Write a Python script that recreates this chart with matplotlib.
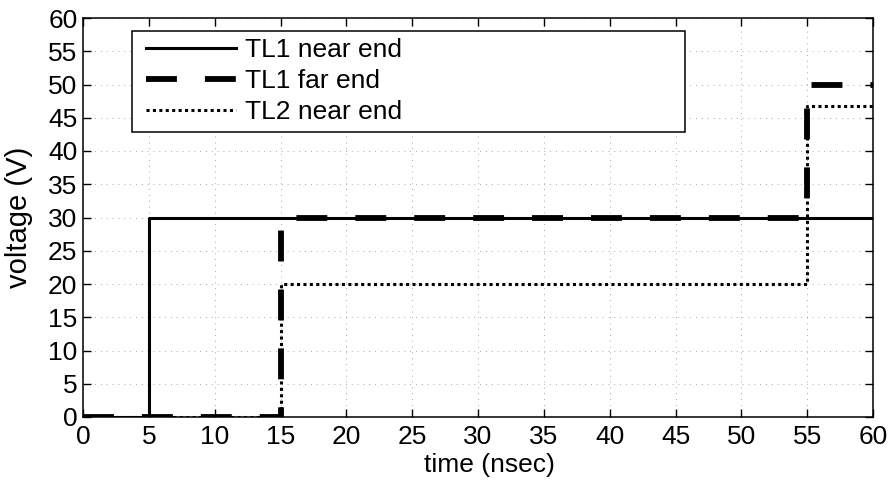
import matplotlib.pyplot as plt
from matplotlib.patches import Rectangle

# datos (tiempo en ns, tension en V)
t_near = [0, 5, 5, 60]
v_near = [0, 0, 30, 30]

t_far = [0, 15, 15, 55, 55, 60]
v_far = [0, 0, 30, 30, 50, 50]

t_tl2 = [0, 15, 15, 55, 55, 60]
v_tl2 = [0, 0, 20, 20, 46.7, 46.7]

ticks = list(range(0, 61, 5))

plt.rcParams['font.family'] = ['Liberation Sans', 'DejaVu Sans']

fig = plt.figure(figsize=(8.93, 4.88), dpi=100)
ax = fig.add_axes([83 / 893, 1 - 417 / 488, 790 / 893, 399 / 488])

ax.plot(t_near, v_near, color='black', lw=2.2, label='TL1 near end')
ax.plot(t_far, v_far, color='black', lw=4.2, dashes=(5.3, 4.8), label='TL1 far end')
ax.plot(t_tl2, v_tl2, color='black', lw=2.2, dashes=(1, 1.1), label='TL2 near end')

ax.set_xlim(0, 60)
ax.set_ylim(0, 60)
ax.set_xticks(ticks)
ax.set_yticks(ticks)
ax.tick_params(direction='in', top=True, right=True, labelsize=19,
               length=6, width=1, pad=4)
ax.tick_params(axis='x', pad=5.5)
ax.grid(True, linestyle=(0, (1, 6)), color='0.55', lw=0.6)
for s in ax.spines.values():
    s.set_linewidth(1.1)

ax.set_xlabel('time (nsec)', fontsize=19)
ax.set_ylabel('voltage (V)', fontsize=21)
ax.xaxis.set_label_coords(0.515, -0.09)
ax.yaxis.set_label_coords(-0.063, 0.5)

# caja de la leyenda (estilo MATLAB, mas ancha que el texto)
ax.add_patch(Rectangle((0.062, 0.715), 0.70, 0.253, transform=ax.transAxes,
                       facecolor='white', edgecolor='black', lw=1.1, zorder=5))
leg = ax.legend(loc='upper left', bbox_to_anchor=(0.08, 0.95), fontsize=19,
                handlelength=3.4, handletextpad=0.35, labelspacing=0.27,
                borderpad=0, borderaxespad=0, frameon=False)
leg.set_zorder(6)

plt.savefig('out.png', dpi=100)
